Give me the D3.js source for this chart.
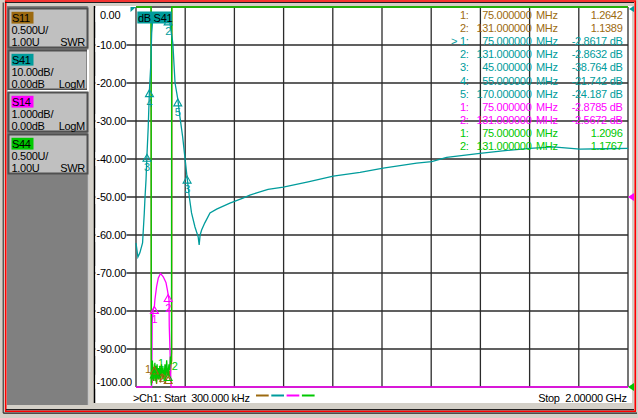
<!DOCTYPE html>
<html>
<head>
<meta charset="utf-8">
<script src="https://cdn.jsdelivr.net/npm/d3@7"></script>
<style>
  body { margin: 0; background: #d4d0c8; }
  svg text { font-family: "Liberation Sans", Arial, sans-serif; font-size: 11px; letter-spacing: -0.3px; white-space: pre; }
</style>
</head>
<body>
<svg class="vna" width="638" height="418"></svg>
<script>
// S41 transmission, dB (MHz, dB)
const s41 = [[0.3,-62.1],[8,-65.8],[16,-64.7],[27,-62.1],[30,-58.7],[34,-54.2],[37,-50],[41,-45.5],[45,-38.76],
  [50,-31.6],[55,-21.74],[60,-15.8],[64,-6.8],[69,-2.9],[75,-2.86],[90,-2.6],[100,-2.5],[110,-2.6],[120,-2.7],
  [131,-2.86],[138,-4.2],[150,-9.5],[159,-20],[170,-24.19],[179,-29],[190,-34.2],[199,-39.5],[206,-43.7],
  [217,-50],[226,-54.2],[240,-57.9],[253,-60.5],[257,-62.6],[261,-60],[267,-58.7],[280,-56.8],[301,-54.2],
  [328,-53.2],[382,-51.6],[435,-50.3],[463,-49.5],[491,-48.9],[537,-48],[599,-47.4],[700,-46],[802,-44.5],
  [911,-43.5],[1005,-42.4],[1141,-41.1],[1202,-40.7],[1263,-39.6],[1398,-38.5],[1500,-37.8],[1602,-37.2],
  [1695,-36.8],[1805,-37.4],[1900,-37.3],[2000,-37.2]];

// S14, dB
const s14 = [[0.3,-62],[20,-55],[45,-40],[60,-22],[64,-8],[65,-4.5],[66,-3.3],[70,-2.97],[75,-2.88],[77,-2.71],
  [84,-2.36],[91,-2.13],[100,-2.01],[111,-2.1],[122,-2.25],[128,-2.45],[131,-2.57],[134.5,-2.7],[135.5,-3.4],
  [141,-4.6],[143,-5.5],[160,-15],[300,-40],[800,-55],[2000,-60]];

// S11, SWR
const s11 = [[0.3,30],[30,22],[61.5,9],[62.6,1.05],[64,1.2],[66,1.05],[68,1.3],[70,1.1],[73,1.25],[75,1.2642],
  [78,1.08],[81,1.22],[84,1.04],[88,1.2],[92,1.1],[96,1.25],[100,1.06],[105,1.22],[110,1.1],[115,1.2],[120,1.05],
  [125,1.25],[131,1.1389],[135,1.22],[139,1.12],[143,1.3],[145.6,1.35],[146.3,8],[300,20],[2000,25]];

// S44, SWR
const s44 = [[0.3,30],[30,25],[60,12],[61.8,7],[62.4,1.02],[64,1.3],[65.5,1.1],[67,1.35],[68.5,1.15],[70,1.25],
  [72,1.08],[75,1.21],[77,1.32],[79,1.12],[81,1.28],[83,1.06],[86,1.3],[88,1.15],[91,1.25],[94,1.1],[97,1.28],
  [100,1.12],[104,1.3],[107,1.18],[110,1.26],[114,1.1],[118,1.3],[121,1.15],[125,1.35],[128,1.2],[131,1.18],
  [134,1.3],[137,1.22],[140,1.4],[142,1.3],[144.5,1.45],[145.2,7],[146,12],[300,20],[1000,25],[2000,30]];

const yTicks = [0,-10,-20,-30,-40,-50,-60,-70,-80,-90,-100];
const xDivs = [0,1,2,3,4,5,6,7,8,9,10];

// visible marker symbols on the traces: [freq, value, label]
const s41Marks = [[131,-2.8632,'2'],[45,-38.764,'3'],[55,-21.742,'4'],[170,-24.187,'5'],[208,-44.5,'3']];
const s14Marks = [[75,-2.8785,'1'],[131,-2.5672,'2']];
const s11Marks = [[75,1.2642,'1'],[131,1.1389,'2']];
const s44Marks = [[75,1.2096,'1'],[131,1.1767,'2']];

// marker readout table
const readRows = [
  ['s11','1:','75.000000','1.2642'],
  ['s11','2:','131.000000','1.1389'],
  ['s41','> 1:','75.000000','-2.8617 dB'],
  ['s41','2:','131.000000','-2.8632 dB'],
  ['s41','3:','45.000000','-38.764 dB'],
  ['s41','4:','55.000000','-21.742 dB'],
  ['s41','5:','170.000000','-24.187 dB'],
  ['s14','1:','75.000000','-2.8785 dB'],
  ['s14','2:','131.000000','-2.5672 dB'],
  ['s44','1:','75.000000','1.2096'],
  ['s44','2:','131.000000','1.1767']
];

const channels = [
  {id:'s11', name:'S11', scale:'0.500U/', ref:'1.00U', fmt:'SWR'},
  {id:'s41', name:'S41', scale:'10.00dB/', ref:'0.00dB', fmt:'LogM'},
  {id:'s14', name:'S14', scale:'1.000dB/', ref:'0.00dB', fmt:'LogM'},
  {id:'s44', name:'S44', scale:'0.500U/', ref:'1.00U', fmt:'SWR'}
];

const colors = {s11:'#9c6a10', s41:'#009c9c', s14:'#ff00ff', s44:'#00c800'};

render();

function render()
{
    const svg = d3.select('.vna');
    const left = 136, right = 628, top = 7, bottom = 387;

    // window frame
    svg.append('rect').attr('width', 638).attr('height', 418).attr('fill', '#d4d0c8');
    svg.append('rect').attr('x', 7).attr('y', 6).attr('width', 82).attr('height', 399).attr('fill', '#808080');
    svg.append('line').attr('x1', 88.5).attr('x2', 88.5).attr('y1', 6).attr('y2', 405).attr('stroke', '#c8c8c8').attr('stroke-width', 1.5);
    svg.append('rect').attr('x', 95).attr('y', 6).attr('width', 537).attr('height', 397).attr('fill', '#ffffff');
    svg.append('line').attr('x1', 94.5).attr('x2', 94.5).attr('y1', 6).attr('y2', 403).attr('stroke', '#000').attr('stroke-width', 1.5);

    const frame = svg.append('g').attr('fill', 'none');
    frame.append('path').attr('d', 'M5.7,411.3 V1 H635.3 V411.3 Z').attr('stroke', '#ff0000').attr('stroke-width', 1.6);
    frame.append('path').attr('d', 'M3.2,413 V2.5 M5,2.5 H634').attr('stroke', '#202020').attr('stroke-width', 1);
    frame.append('path').attr('d', 'M3.2,413.2 H637 M6,409.7 H634').attr('stroke', '#202020').attr('stroke-width', 1.2);

    // channel buttons
    channels.forEach((c, i) => {
        const by = 8.5 + 42 * i;
        const g = svg.append('g').attr('transform', `translate(8.5, ${by})`);
        g.append('rect').attr('width', 79).attr('height', 39).attr('fill', '#c0c0c0')
            .attr('stroke', '#505050').attr('stroke-width', 2);
        if (i == 1) {
            g.append('path').attr('d', 'M79.5,-1 V40.5 H-1').attr('fill', 'none').attr('stroke', '#ffffff').attr('stroke-width', 2);
        }
        g.append('rect').attr('x', 3).attr('y', 3.3).attr('width', 22).attr('height', 11.8).attr('fill', colors[c.id]);
        g.append('text').attr('x', 3.5).attr('y', 13.4).attr('fill', '#000').text(c.name);
        g.append('text').attr('x', 3).attr('y', 25.5).attr('fill', '#000').text(c.scale);
        g.append('text').attr('x', 3).attr('y', 37).attr('fill', '#000').text(c.ref);
        g.append('text').attr('x', 76.5).attr('y', 37).attr('text-anchor', 'end').attr('fill', '#000').text(c.fmt);
    });

    // scales
    const xScale = d3.scaleLinear().domain([0.3, 2000]).range([left, right]);
    const yDb = d3.scaleLinear().domain([-100, 0]).range([bottom, top]).clamp(true);
    const yS14 = d3.scaleLinear().domain([-5, 5]).range([bottom, top]).clamp(true);
    const ySwr = d3.scaleLinear().domain([1, 6]).range([bottom, top]).clamp(true);
    const divX = d3.scaleLinear().domain([0, 10]).range([left, right]);

    // graticule
    const grid = svg.append('g').attr('stroke', '#2b2b2b').attr('stroke-width', 1.3);
    grid.selectAll('.h').data(yTicks).enter().append('line')
        .attr('x1', d => (d == 0 || d == -100) ? left : 95)
        .attr('x2', right)
        .attr('y1', d => yDb(d)).attr('y2', d => yDb(d));
    grid.selectAll('.v').data(xDivs).enter().append('line')
        .attr('x1', d => divX(d)).attr('x2', d => divX(d))
        .attr('y1', top).attr('y2', bottom);

    // y labels
    const labels = svg.append('g');
    yTicks.forEach(v => {
        const cy = Math.min(Math.max(yDb(v), 15), 381.7);
        const txt = v.toFixed(2);
        labels.append('rect').attr('x', 95.5).attr('y', cy - 7).attr('width', v == -100 ? 37 : 31)
            .attr('height', 14).attr('fill', '#fff');
        labels.append('text').attr('x', v < 0 ? 96.6 : 100).attr('y', cy + 4)
            .attr('fill', '#000').text(txt);
    });

    // traces
    const lineOf = ys => d3.line().x(d => xScale(d[0])).y(d => ys(d[1]));
    const traces = svg.append('g').attr('fill', 'none').attr('stroke-width', 1.3);
    traces.append('path').datum(s11).attr('stroke', colors.s11).attr('d', lineOf(ySwr));
    traces.append('path').datum(s14).attr('stroke', colors.s14).attr('d', lineOf(yS14));
    traces.append('path').datum(s44).attr('stroke', colors.s44).attr('d', lineOf(ySwr));
    traces.append('path').datum(s41).attr('stroke', colors.s41).attr('d', lineOf(yDb));

    // marker symbols; dx/dy place the number relative to the tip
    function marks(list, ys, color, dx, dy)
    {
        const g = svg.append('g');
        list.forEach(m => {
            const mx = xScale(m[0]), my = ys(m[1]);
            g.append('path').attr('d', `M${mx},${my} L${mx - 4},${my + 7} L${mx + 4},${my + 7} Z`)
                .attr('fill', 'none').attr('stroke', color).attr('stroke-width', 1.1);
            g.append('text').attr('x', mx + dx).attr('y', my + dy)
                .attr('text-anchor', 'middle').attr('fill', color).text(m[2]);
        });
    }
    marks(s11Marks, ySwr, colors.s11, -6.5, 6);
    marks(s14Marks, yS14, colors.s14, 0, 17);
    marks(s44Marks, ySwr, colors.s44, 6.5, -4);
    marks(s41Marks, yDb, colors.s41, 0, 17);

    // active trace tag
    svg.append('rect').attr('x', 137.3).attr('y', 11.5).attr('width', 34.5).attr('height', 12).attr('fill', colors.s41);
    svg.append('text').attr('x', 138).attr('y', 21.5).attr('fill', '#000').text('dB S41');

    // reference position arrows
    const refs = svg.append('g');
    refs.append('path').attr('d', 'M130.5,7 L136,7 L130.5,12 Z').attr('fill', colors.s41);
    refs.append('path').attr('d', `M629,${yDb(0) + 2} L634,${yDb(0) - 1} L634,${yDb(0) + 5} Z`).attr('fill', colors.s41);
    refs.append('path').attr('d', `M628,${yS14(0)} L634,${yS14(0) - 4} L634,${yS14(0) + 4} Z`).attr('fill', colors.s14);
    refs.append('path').attr('d', `M628,${ySwr(1)} L634,${ySwr(1) - 4} L634,${ySwr(1) + 4} Z`).attr('fill', colors.s44);

    // marker readout
    const table = svg.append('g');
    readRows.forEach((r, i) => {
        const ty = 19 + 13.1 * i;
        const c = colors[r[0]];
        table.append('text').attr('x', 468.5).attr('y', ty).attr('text-anchor', 'end').attr('fill', c).text(r[1]);
        table.append('text').attr('x', 531.5).attr('y', ty).attr('text-anchor', 'end').attr('fill', c).text(r[2]);
        table.append('text').attr('x', 536).attr('y', ty).attr('fill', c).text('MHz');
        table.append('text').attr('x', 622.5).attr('y', ty).attr('text-anchor', 'end').attr('fill', c).text(r[3]);
    });

    // status line
    svg.append('text').attr('x', 133).attr('y', 401.5).attr('fill', '#000').text('>Ch1: Start  300.000 kHz');
    svg.append('text').attr('x', 626.7).attr('y', 401.5).attr('text-anchor', 'end').attr('fill', '#000').text('Stop  2.00000 GHz');
    channels.forEach((c, i) => {
        svg.append('line').attr('x1', 256 + 15.3 * i).attr('x2', 268.7 + 15.3 * i)
            .attr('y1', 395.5).attr('y2', 395.5).attr('stroke', colors[c.id]).attr('stroke-width', 2);
    });
}
</script>
</body>
</html>
